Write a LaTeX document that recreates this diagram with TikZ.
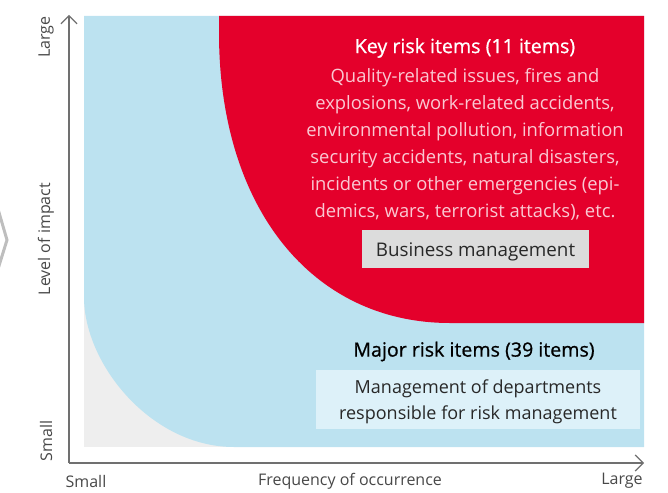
\documentclass[tikz,border=0pt]{standalone}
\usepackage{fontspec}
\setmainfont{Open Sans}
\usetikzlibrary{arrows.meta}
\definecolor{riskred}{RGB}{228,0,43}
\definecolor{riskblue}{RGB}{188,226,240}
\definecolor{paleblue}{RGB}{221,241,249}
\definecolor{bggray}{RGB}{238,238,238}
\definecolor{boxgray}{RGB}{220,220,220}
\definecolor{axisgray}{RGB}{112,112,112}
\definecolor{pinktext}{RGB}{250,200,210}
\definecolor{darktext}{RGB}{40,40,40}
\definecolor{chevgray}{RGB}{190,190,190}
\tikzset{
  axislabel/.style={font=\fontsize{16}{18}\selectfont, text=darktext!85, inner sep=0pt},
  redbody/.style={font=\fontsize{18.4}{27}\selectfont, text=pinktext, align=center, inner sep=0pt},
  redtitle/.style={font=\fontsize{19.6}{22}\selectfont\addfontfeatures{FakeBold=0.8}, text=white, inner sep=0pt},
  bluetitle/.style={font=\fontsize{19.6}{22}\selectfont\addfontfeatures{FakeBold=0.8}, text=black, inner sep=0pt},
  mgmtbox/.style={font=\fontsize{18}{26}\selectfont, text=darktext, align=center, inner sep=0pt},
  axisline/.style={draw=axisgray, line width=1.2pt, -{Straight Barb[length=8pt,width=16pt,line width=1.2pt]}}
}
\begin{document}
\begin{tikzpicture}[x=1pt,y=-1pt]
\useasboundingbox (0,0) rectangle (668,492);
% chevron at left edge
\draw[chevgray, line width=3pt] (-2,209) -- (7,240) -- (-2,269);
% background regions
\fill[bggray] (84,16) rectangle (644,447);
\fill[riskblue] (84,16) -- (644,16) -- (644,447) -- (234,447)
  .. controls (151.2,447) and (84,364.2) .. (84,297) -- cycle;
\fill[riskred] (219,16) -- (644,16) -- (644,323) -- (450,323)
  .. controls (311.4,323) and (219,207) .. (219,33) -- cycle;
% axes
\coordinate (origin) at (69,463);
\coordinate (ytop) at (69,15);
\coordinate (xend) at (644,463);
\draw[axisline] (origin) -- (ytop);
\draw[axisline] (origin) -- (xend);
% axis labels
\node[axislabel, rotate=90] (ylarge) at (46,37) {Large};
\node[axislabel, rotate=90] (ylabel) at (46,239) {Level of impact};
\node[axislabel, rotate=90] (ysmall) at (46,441) {Small};
\node[axislabel] (xsmall) at (86,481) {Small};
\node[axislabel] (xlabel) at (350,481) {Frequency of occurrence};
\node[axislabel] (xlarge) at (622,481) {Large};
% red region texts
\node[redtitle] (keytitle) at (465,48) {Key risk items (11 items)};
\node[redbody] (keybody) at (465,144) {Quality-related issues, fires and\\explosions, work-related accidents,\\environmental pollution, information\\security accidents, natural disasters,\\incidents or other emergencies (epi-\\demics, wars, terrorist attacks), etc.};
\node[fill=boxgray, minimum width=227pt, minimum height=38pt, inner sep=0pt] (bizbox) at (475.5,249) {};
\node[inner sep=0pt, font=\fontsize{18.8}{20}\selectfont, text=darktext] (biztext) at ([yshift=-3pt]bizbox.center) {Business management};
% blue region texts
\node[bluetitle] (majortitle) at (474,351.5) {Major risk items (39 items)};
\node[fill=paleblue, minimum width=324pt, minimum height=59pt, inner sep=0pt] (deptbox) at (478,399.5) {};
\node[mgmtbox] (depttext) at ([yshift=-2.5pt]deptbox.center) {Management of departments\\responsible for risk management};
\end{tikzpicture}
\end{document}
